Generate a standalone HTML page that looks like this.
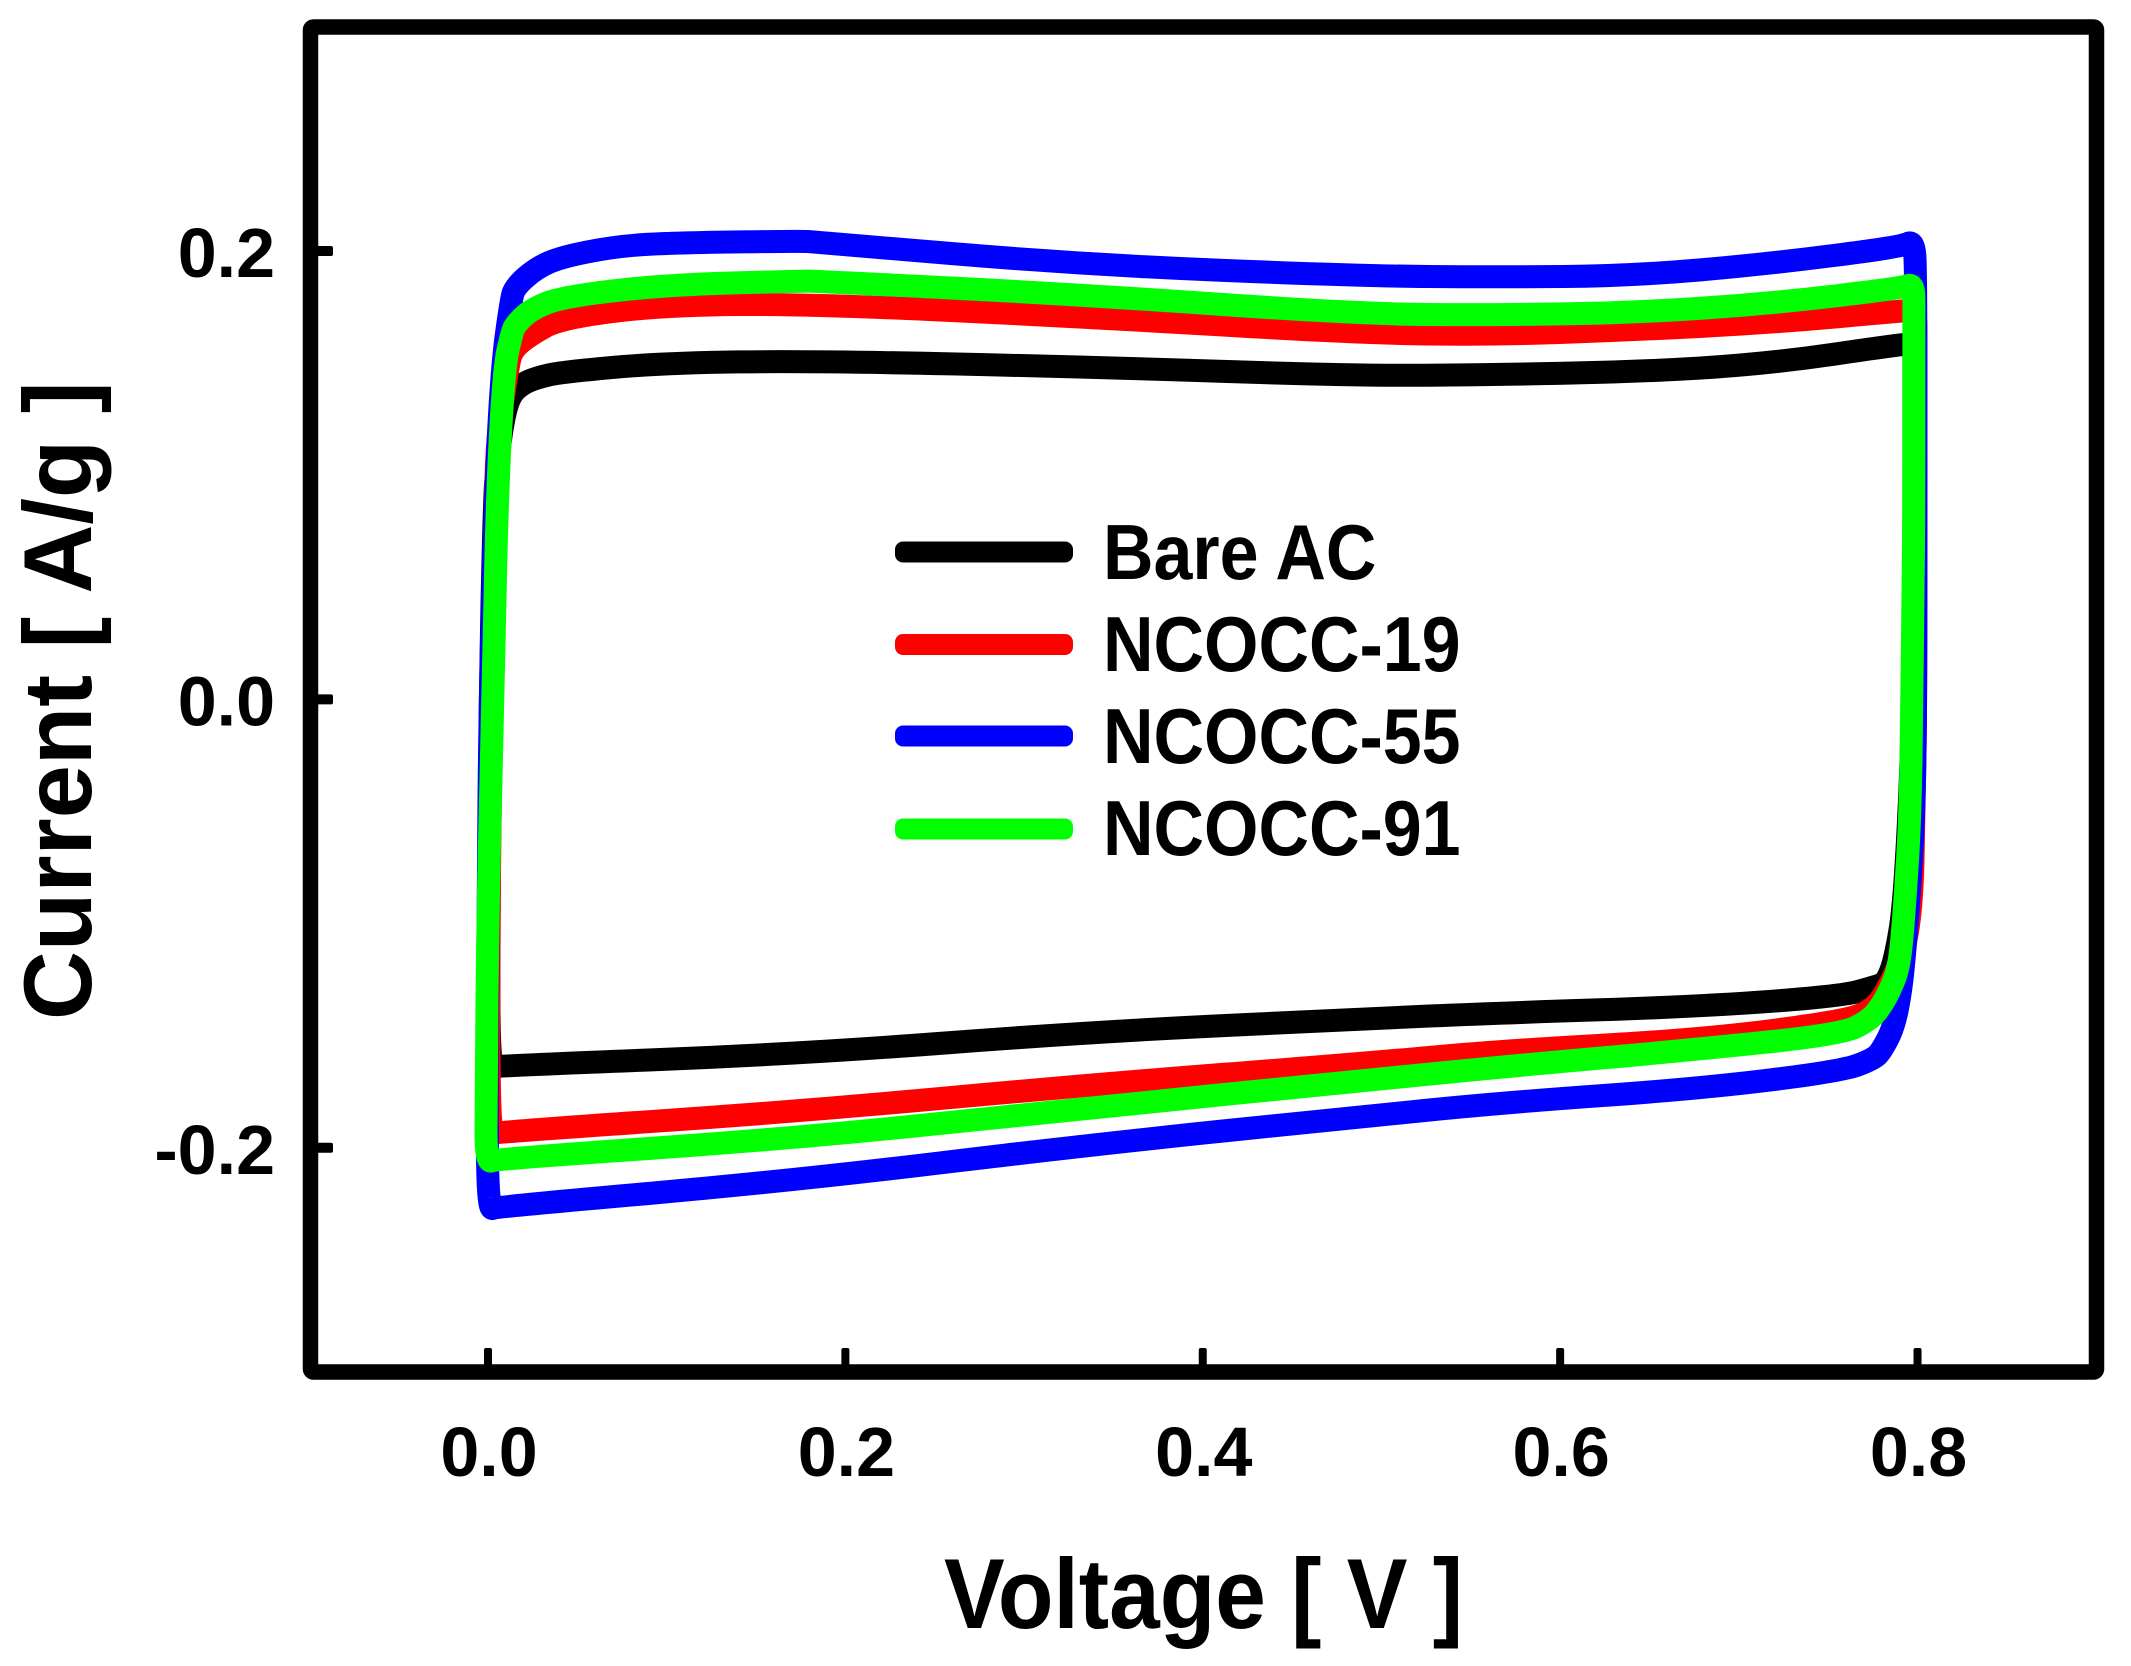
<!DOCTYPE html>
<html lang="en">
<head>
<meta charset="utf-8">
<title>Cyclic voltammetry chart</title>
<style>
html,body{margin:0;padding:0;background:#fff;}
svg{display:block;}
text{font-family:"Liberation Sans",Arial,sans-serif;font-weight:bold;fill:#000;}
</style>
</head>
<body>
<svg id="chart" xmlns="http://www.w3.org/2000/svg" width="2131" height="1666" viewBox="0 0 2131 1666">
  <rect x="0" y="0" width="2131" height="1666" fill="#fff"/>
  <g id="series-layer"></g>
  <rect x="310.5" y="27" width="1786" height="1345" fill="none" stroke="#000" stroke-width="15.5" rx="3"/>
  <g id="tick-layer"></g>
  <text transform="translate(944,1628) scale(1,1.088)" font-size="91">Voltage [ V ]</text>
  <text transform="translate(91,1020) rotate(-90) scale(0.985,1)" font-size="97">Current [ A/g ]</text>
  <g>
    <g>
      <rect x="895" y="541.5" width="178" height="21" rx="8" fill="#000"/>
      <text transform="translate(1103,579) scale(0.897,1)" font-size="78">Bare AC</text>
    </g>
    <g>
      <rect x="895" y="634" width="178" height="21" rx="8" fill="#f00"/>
      <text transform="translate(1103,671) scale(0.897,1)" font-size="78">NCOCC-19</text>
    </g>
    <g>
      <rect x="895" y="725.5" width="178" height="21" rx="8" fill="#00f"/>
      <text transform="translate(1103,763) scale(0.897,1)" font-size="78">NCOCC-55</text>
    </g>
    <g>
      <rect x="895" y="818.5" width="178" height="21" rx="8" fill="#0f0"/>
      <text transform="translate(1103,855) scale(0.897,1)" font-size="78">NCOCC-91</text>
    </g>
  </g>
</svg>
<script>
const xTickValues = [0.0, 0.2, 0.4, 0.6, 0.8];
const xTickLabels = ["0.0", "0.2", "0.4", "0.6", "0.8"];
const yTickValues = [-0.2, 0.0, 0.2];
const yTickLabels = ["-0.2", "0.0", "0.2"];

const bareVoltage = [0.0005,0.0005,0.0011,0.0035,0.0050,0.0084,0.0123,0.0190,0.0269,0.0409,0.0979,0.1830,0.3352,0.4874,0.5635,0.6397,0.7158,0.7913,0.7980,0.7980,0.7980,0.7930,0.7874,0.7824,0.7756,0.7577,0.6788,0.5663,0.4874,0.3352,0.1746,0.0050];
const bareCurrent = [-0.1644,-0.0895,0,0.0889,0.1037,0.1246,0.1358,0.1407,0.1434,0.1460,0.1501,0.1510,0.1483,0.1443,0.1449,0.1460,0.1496,0.1585,0.1585,0.1450,0,-0.0895,-0.1162,-0.1265,-0.1283,-0.1323,-0.1370,-0.1399,-0.1426,-0.1484,-0.1582,-0.1635];

const ncocc19Voltage = [0.0005,0.0005,0.0022,0.0040,0.0054,0.0112,0.0134,0.0235,0.0409,0.0979,0.1830,0.3352,0.4874,0.5635,0.6397,0.7158,0.7913,0.7991,0.7991,0.7991,0.7980,0.7969,0.7930,0.7846,0.7756,0.7577,0.6788,0.5663,0.4874,0.3352,0.1746,0.0050];
const ncocc19Current = [-0.1943,-0.0895,0,0.0889,0.1188,0.1483,0.1559,0.1626,0.1701,0.1759,0.1764,0.1706,0.1634,0.1626,0.1648,0.1679,0.1733,0.1737,0.1600,-0.0003,-0.0537,-0.0895,-0.1118,-0.1274,-0.1385,-0.1437,-0.1518,-0.1568,-0.1626,-0.1720,-0.1838,-0.1930];

const ncocc55Voltage = [0,-0.0006,0,0.0011,0.0039,0.0078,0.0129,0.0151,0.0269,0.0409,0.0694,0.0979,0.1746,0.1830,0.3352,0.4874,0.5635,0.6397,0.7158,0.7913,0.7980,0.7991,0.7991,0.7991,0.7980,0.7952,0.7930,0.7908,0.7868,0.7801,0.7756,0.7577,0.6788,0.5663,0.4874,0.3352,0.1746,0.0050];
const ncocc55Current = [-0.2278,-0.1787,-0.0895,0,0.0889,0.1483,0.1782,0.1840,0.1924,0.1973,0.2018,0.2036,0.2045,0.2040,0.1938,0.1889,0.1884,0.1889,0.1942,0.2019,0.2049,0.1900,0.0889,-0.0003,-0.0537,-0.0895,-0.1118,-0.1296,-0.1461,-0.1564,-0.1604,-0.1658,-0.1736,-0.1800,-0.1863,-0.1988,-0.2144,-0.2264];

const ncocc91Voltage = [-0.0011,-0.0011,0,0.0028,0.0050,0.0090,0.0134,0.0151,0.0235,0.0409,0.0979,0.1746,0.1830,0.3352,0.4874,0.5635,0.6397,0.7158,0.7913,0.7980,0.7980,0.7980,0.7975,0.7969,0.7958,0.7930,0.7908,0.7885,0.7846,0.7801,0.7734,0.7577,0.6788,0.5663,0.4874,0.3352,0.1746,0.0050];
const ncocc91Current = [-0.2068,-0.1787,-0.0895,0,0.0889,0.1483,0.1634,0.1670,0.1737,0.1795,0.1849,0.1866,0.1866,0.1804,0.1719,0.1715,0.1724,0.1764,0.1835,0.1857,0.1720,0.0831,0.0532,-0.0003,-0.0537,-0.0895,-0.1118,-0.1220,-0.1296,-0.1363,-0.1430,-0.1493,-0.1560,-0.1640,-0.1703,-0.1823,-0.1957,-0.2050];

const SVG_NS = "http://www.w3.org/2000/svg";

function xScale(v) {
  return 488 + v * 1786.9;
}
function yScale(c) {
  return 699.4 - c * 2241.75;
}

function drawSeries(voltage, current, color, name) {
  const count = voltage.length;
  const px = voltage.map(xScale);
  const py = current.map(yScale);
  function midX(i) { return ((px[i] + px[(i + 1) % count]) / 2).toFixed(1); }
  function midY(i) { return ((py[i] + py[(i + 1) % count]) / 2).toFixed(1); }
  let d = "M" + midX(count - 1) + " " + midY(count - 1);
  for (let i = 0; i < count; i++) {
    d += " Q" + px[i].toFixed(1) + " " + py[i].toFixed(1) + " " + midX(i) + " " + midY(i);
  }
  const path = document.createElementNS(SVG_NS, "path");
  path.setAttribute("d", d + " Z");
  path.setAttribute("fill", "none");
  path.setAttribute("stroke", color);
  path.setAttribute("stroke-width", "23");
  path.setAttribute("stroke-linejoin", "round");
  path.setAttribute("stroke-linecap", "round");
  
  
  document.getElementById("series-layer").appendChild(path);
}

drawSeries(bareVoltage, bareCurrent, "#000000", "series-bare-ac");
drawSeries(ncocc19Voltage, ncocc19Current, "#ff0000", "series-ncocc-19");
drawSeries(ncocc55Voltage, ncocc55Current, "#0000ff", "series-ncocc-55");
drawSeries(ncocc91Voltage, ncocc91Current, "#00ff00", "series-ncocc-91");

const tickLayer = document.getElementById("tick-layer");

xTickValues.forEach(function (v, i) {
  const tick = document.createElementNS(SVG_NS, "rect");
  tick.setAttribute("x", xScale(v) - 4);
  tick.setAttribute("y", 1348);
  tick.setAttribute("width", 8);
  tick.setAttribute("height", 20);
  tick.setAttribute("rx", 2);
  tick.setAttribute("fill", "#000");
  
  
  tickLayer.appendChild(tick);

  const label = document.createElementNS(SVG_NS, "text");
  label.setAttribute("x", xScale(v) + 1);
  label.setAttribute("y", 1476);
  label.setAttribute("text-anchor", "middle");
  label.setAttribute("font-size", "70");
  label.textContent = xTickLabels[i];
  
  
  tickLayer.appendChild(label);
});

yTickValues.forEach(function (c, i) {
  const tick = document.createElementNS(SVG_NS, "rect");
  tick.setAttribute("x", 312);
  tick.setAttribute("y", yScale(c) - 5);
  tick.setAttribute("width", 21);
  tick.setAttribute("height", 10);
  tick.setAttribute("rx", 2);
  tick.setAttribute("fill", "#000");
  
  
  tickLayer.appendChild(tick);

  const label = document.createElementNS(SVG_NS, "text");
  label.setAttribute("x", 275);
  label.setAttribute("y", yScale(c) + 26);
  label.setAttribute("text-anchor", "end");
  label.setAttribute("font-size", "70");
  label.textContent = yTickLabels[i];
  
  
  tickLayer.appendChild(label);
});
</script>
</body>
</html>
